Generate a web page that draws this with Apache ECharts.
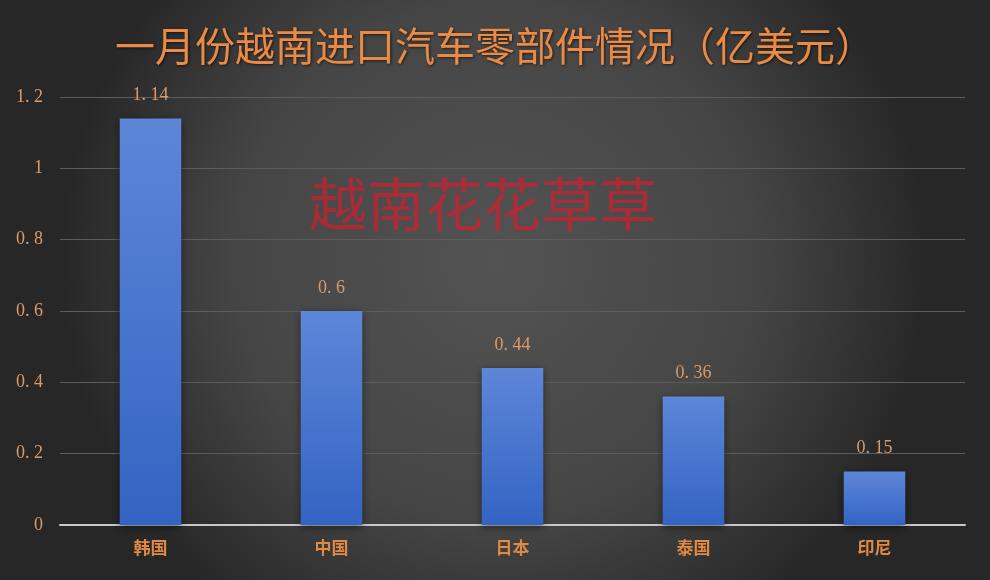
<!DOCTYPE html>
<html><head><meta charset="utf-8">
<script src="https://cdn.jsdelivr.net/npm/echarts@6/dist/echarts.min.js"></script>
<style>html,body{margin:0;padding:0;background:#3a3a3a}#c{width:990px;height:580px}</style>
</head><body><div id="c"></div>
<script>
const categories = ['韩国', '中国', '日本', '泰国', '印尼'];
const values = [1.14, 0.6, 0.44, 0.36, 0.15];
const yTicks = [0, 0.2, 0.4, 0.6, 0.8, 1, 1.2];
const titleText = '一月份越南进口汽车零部件情况（亿美元）';
const watermark = '越南花花草草';

const chart = echarts.init(document.getElementById('c'));
chart.setOption({
  backgroundColor: {
    type: 'radial', x: 0.5, y: 0.45, r: 0.75,
    colorStops: [{offset: 0, color: '#535353'}, {offset: 0.6, color: '#454545'}, {offset: 1, color: '#272727'}]
  },
  title: {
    text: titleText, left: 'center', top: 21,
    textStyle: {color: '#ea8a44', fontSize: 40, fontWeight: 'normal', fontFamily: '"Noto Sans CJK SC", serif',
      textShadowColor: 'rgba(0,0,0,0.6)', textShadowBlur: 3, textShadowOffsetX: 1, textShadowOffsetY: 1}
  },
  graphic: [{
    type: 'text', left: 309, top: 175, z: 100,
    style: {text: watermark, font: '58px "Noto Sans CJK SC"', fill: 'rgba(210,30,45,0.7)'}
  }],
  grid: {left: 60, right: 25, top: 97, bottom: 55, containLabel: false},
  xAxis: {
    type: 'category', data: categories,
    axisLine: {lineStyle: {color: '#c8c8c8', width: 2}},
    axisTick: {show: false},
    axisLabel: {color: '#e08a45', fontSize: 17, fontWeight: 'bold', fontFamily: '"Noto Sans CJK SC"', margin: 14}
  },
  yAxis: {
    type: 'value', min: 0, max: 1.2, interval: 0.2,
    axisLine: {show: false}, axisTick: {show: false},
    splitLine: {lineStyle: {color: '#5c5c5c', width: 1}},
    axisLabel: {color: '#dc9a66', fontSize: 18, fontFamily: '"Liberation Serif", "DejaVu Serif", serif', margin: 17,
      formatter: v => { const t = yTicks.find(x => Math.abs(x - v) < 1e-9); return String(t !== undefined ? t : v).replace('.', '. '); }}
  },
  series: [{
    type: 'bar', data: values, barWidth: '34%',
    itemStyle: {
      color: {type: 'linear', x: 0, y: 0, x2: 0, y2: 1, colorStops: [{offset: 0, color: '#5d86d8'}, {offset: 1, color: '#3364c3'}]},
      shadowColor: 'rgba(0,0,0,0.5)', shadowBlur: 8, shadowOffsetX: 0, shadowOffsetY: 2
    },
    label: {show: true, position: 'top', distance: 14, color: '#dc9a66', fontSize: 18,
      fontFamily: '"Liberation Serif", "DejaVu Serif", serif',
      formatter: p => String(p.value).replace('.', '. ')}
  }]
});
</script></body></html>
